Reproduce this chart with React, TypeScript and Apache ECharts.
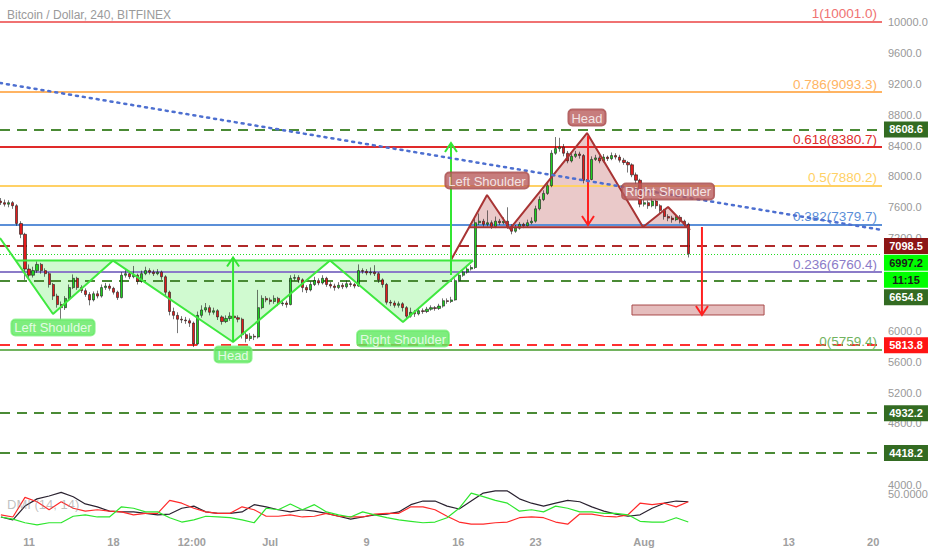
import React, { useEffect, useRef } from 'react';
import * as echarts from 'echarts';

// Time unit: days since 11 Jun 00:00. Candles resampled to 8h.
const FIRST_CANDLE_DAY = -7 / 3;
const CANDLE_DAYS = 1 / 3;
const FIRST_OPEN = 7680;

const closes = [
  7660, 7640, 7660, 7620, 7390, 7250, 6800, 6720, 6780, 6860,
  6780, 6740, 6600, 6450, 6340, 6300, 6420, 6560, 6680, 6560,
  6520, 6470, 6400, 6480, 6450, 6560, 6580, 6550, 6500, 6430,
  6720, 6740, 6700, 6720, 6640, 6740, 6780, 6760, 6740, 6760,
  6700, 6500, 6250, 6200, 6150, 6140, 6130, 6100, 5830, 6200,
  6270, 6300, 6240, 6260, 6180, 6120, 6160, 6190, 6170, 6150,
  5950, 5900, 5930, 5920, 6300, 6420, 6400, 6380, 6420, 6350,
  6360, 6340, 6680, 6690, 6660, 6560, 6530, 6600, 6650, 6620,
  6680, 6600, 6580, 6560, 6590, 6570, 6610, 6600, 6580, 6780,
  6770, 6750, 6760, 6740, 6660, 6600, 6370, 6360, 6330, 6350,
  6300, 6190, 6240, 6220, 6260, 6250, 6280, 6300, 6290, 6320,
  6390, 6380, 6400, 6650, 6720, 6760, 6800, 6820, 7400, 7420,
  7380, 7400, 7350, 7420, 7400, 7420, 7350, 7290, 7330, 7380,
  7360, 7400, 7420, 7580, 7700, 7780, 7880, 8300, 8360, 8380,
  8300, 8200, 8260, 8290, 8270, 7950, 7960, 8220, 8240, 8200,
  8250, 8230, 8270, 8250, 8210, 8180, 8150, 8020, 7950, 7640,
  7660, 7620, 7680, 7620, 7560, 7480, 7460, 7440, 7470, 7420,
  7380, 6997.2,
];
const highs = [
  7720, 7700, 7690, 7680, 7640, 7420, 7270, 6860, 6830, 6900,
  6880, 6810, 6760, 6620, 6480, 6380, 6450, 6600, 6730, 6700,
  6590, 6550, 6500, 6510, 6520, 6600, 6620, 6610, 6570, 6520,
  6760, 6790, 6770, 6840, 6740, 6780, 6830, 6810, 6790, 6800,
  6780, 6720, 6520, 6300, 6240, 6190, 6180, 6160, 6120, 6250,
  6330, 6360, 6330, 6300, 6280, 6200, 6200, 6240, 6220, 6200,
  6170, 5980, 5970, 5960, 6530, 6460, 6450, 6430, 6460, 6440,
  6400, 6390, 6720, 6730, 6720, 6680, 6590, 6640, 6700, 6680,
  6720, 6700, 6630, 6610, 6630, 6620, 6650, 6640, 6620, 6860,
  6810, 6800, 6820, 6850, 6760, 6680, 6620, 6400, 6390, 6380,
  6370, 6320, 6300, 6270, 6300, 6290, 6310, 6330, 6320, 6350,
  6420, 6420, 6440, 6680, 6760, 6790, 6830, 6850, 7460, 7520,
  7450, 7560, 7430, 7480, 7450, 7470, 7600, 7380, 7370, 7410,
  7400, 7440, 7470, 7620, 7740, 7820, 7920, 8340, 8510, 8500,
  8420, 8330, 8300, 8330, 8320, 8290, 8000, 8260, 8280, 8270,
  8290, 8270, 8310, 8300, 8280, 8240, 8200, 8170, 8050, 7970,
  7700, 7690, 7720, 7700, 7640, 7580, 7510, 7490, 7510, 7500,
  7440, 7400,
];
const lows = [
  7630, 7610, 7600, 7580, 7360, 7200, 6660, 6680, 6690, 6750,
  6740, 6700, 6560, 6400, 6300, 6140, 6270, 6400, 6540, 6530,
  6490, 6440, 6330, 6380, 6420, 6430, 6530, 6520, 6470, 6400,
  6420, 6690, 6670, 6680, 6600, 6620, 6720, 6730, 6710, 6720,
  6660, 6460, 6200, 6150, 5970, 6100, 6090, 6050, 5790, 5810,
  6170, 6240, 6200, 6210, 6140, 6080, 6100, 6130, 6140, 6110,
  5900, 5850, 5870, 5880, 5900, 6280, 6370, 6340, 6350, 6320,
  6320, 6300, 6330, 6650, 6620, 6500, 6490, 6510, 6580, 6590,
  6600, 6570, 6550, 6520, 6540, 6540, 6550, 6570, 6550, 6570,
  6740, 6720, 6720, 6710, 6620, 6560, 6340, 6320, 6300, 6300,
  6250, 6150, 6170, 6180, 6200, 6220, 6230, 6260, 6260, 6270,
  6300, 6350, 6360, 6390, 6630, 6700, 6740, 6780, 6800, 7370,
  7340, 7350, 7320, 7330, 7370, 7380, 7320, 7250, 7270, 7310,
  7330, 7340, 7380, 7400, 7560, 7680, 7760, 7860, 8280, 8320,
  8260, 8170, 8180, 8240, 8230, 7910, 7920, 7950, 8200, 8170,
  8180, 8200, 8210, 8220, 8180, 8150, 8050, 7990, 7900, 7600,
  7610, 7580, 7600, 7580, 7520, 7440, 7420, 7400, 7420, 7390,
  7350, 6950,
];

// DMI (14, 14), one reading per day, starting at the first candle
const adx = [
  18, 14, 33, 43, 47, 52, 46, 36, 32, 26, 25, 25, 23, 21, 22, 30, 33, 25, 23, 23,
  25, 35, 32, 28, 25, 28, 26, 23, 19, 15, 18, 21, 22, 25, 35, 40, 40, 33, 29, 40,
  51, 54, 54, 43, 37, 33, 37, 41, 39, 32, 26, 22, 19, 21, 30, 37, 40, 39,
];
const minusDI = [
  21, 18, 45, 39, 28, 39, 30, 26, 28, 26, 25, 21, 23, 23, 41, 37, 30, 25, 23, 23,
  32, 28, 19, 19, 21, 18, 19, 23, 19, 18, 18, 22, 23, 23, 32, 32, 28, 19, 11, 8,
  8, 10, 11, 17, 18, 17, 11, 8, 22, 22, 19, 18, 21, 37, 35, 37, 32, 39,
];
const plusDI = [
  18, 15, 10, 7, 10, 10, 19, 21, 18, 18, 32, 30, 25, 25, 17, 11, 14, 19, 18, 17,
  14, 10, 30, 28, 36, 28, 35, 25, 21, 18, 25, 21, 17, 14, 12, 10, 11, 17, 30, 51,
  46, 41, 37, 26, 28, 25, 33, 30, 25, 25, 23, 23, 21, 12, 11, 11, 17, 11,
];

const xTickDays = [0, 7, 13.5, 20, 28, 35.6, 42, 51, 63, 70];
const xTickLabels = ['11', '18', '12:00', 'Jul', '9', '16', '23', 'Aug', '13', '20'];
const yTicks = [4000, 4800, 5200, 5600, 6000, 7200, 7600, 8000, 8400, 8800, 9200, 9600, 10000];

const fibRatios = ['1', '0.786', '0.618', '0.5', '0.382', '0.236', '0'];
const fibPrices = [10001.0, 9093.3, 8380.7, 7880.2, 7379.7, 6760.4, 5759.4];
const levelPrices = [8608.6, 7098.5, 6654.8, 5813.8, 4932.2, 4418.2];
const lastPrice = 6997.2;
const countdown = '11:15';

const trendLine = [[-2.405, 9210], [70.73, 7306]];

const invPattern = [[-2.405, 7202], [1.99, 6218], [6.97, 6910], [16.92, 5855], [24.96, 6910], [31.01, 6114], [36.82, 6910]];
const invNeck = [[-1.08, 6910], [36.82, 6910]];
const invFill = [[-1.08, 6910], [1.99, 6218], [6.97, 6910], [16.92, 5855], [24.96, 6910], [31.01, 6114], [36.82, 6910]];

const topPattern = [[34.99, 6917], [37.98, 7759], [39.88, 7319], [46.27, 8562], [50.91, 7345], [52.99, 7604], [54.81, 7306]];
const topNeck = [[36.48, 7340], [54.61, 7340]];
const topFill = [[36.48, 7340], [37.98, 7759], [39.88, 7319], [46.27, 8562], [50.91, 7345], [52.99, 7604], [54.61, 7340]];

// [day, from price, to price]
const arrows = [[16.92, 5855, 6950], [34.99, 6723, 8433], [46.35, 8523, 7370], [55.8, 7345, 6205]];
const targetBox = [50.0, 6334, 60.95, 6205];
const patternNames = ['Left Shoulder', 'Head', 'Right Shoulder'];

// ---- styles ----
const X_MIN = -2.405;
const X_MAX = 70.73;
const Y_MIN = 3938;
const Y_MAX = 10285;
const FONT = "'Liberation Sans', Arial, sans-serif";
const fibColors = ['#f07272', '#ffb463', '#e02a2a', '#ffd165', '#5b8fd8', '#8b7bc8', '#72b35f'];
const levelColors = ['#4a8a35', '#b02a2a', '#4a8a35', '#ff3030', '#4a8a35', '#4a8a35'];
const levelBg = ['#336b22', '#8c1515', '#336b22', '#ff1414', '#336b22', '#336b22'];
const levelDy = [0, 0, 17, 0, 0, 0];
const arrowColors = ['#33e633', '#33e633', '#ff2020', '#ff2020'];
const GREEN_LINE = '#3fe83f';
const RED_LINE = '#a83434';

export default function App() {
  const ref = useRef<HTMLDivElement>(null);

  useEffect(() => {
    document.body.style.margin = '0';
    const chart = echarts.init(ref.current!, null, { renderer: 'svg' });

    const candleData = closes.map((c, i) => [
      FIRST_CANDLE_DAY + i * CANDLE_DAYS,
      i === 0 ? FIRST_OPEN : closes[i - 1],
      c,
      lows[i],
      highs[i],
    ]);
    const dmiSeries = (vals: number[]) => vals.map((v, k) => [FIRST_CANDLE_DAY + k, v]);

    const markLineData: any[] = [];
    fibPrices.forEach((p, i) => {
      markLineData.push({
        yAxis: p,
        lineStyle: { color: fibColors[i], width: 2, type: 'solid' },
        label: {
          show: true,
          position: 'insideEndTop',
          formatter: `${fibRatios[i]}(${p.toFixed(1)})`,
          color: fibColors[i],
          fontSize: 13.5,
          fontFamily: FONT,
          distance: [5, 1],
        },
      });
    });
    levelPrices.forEach((p, i) => {
      markLineData.push({
        yAxis: p,
        lineStyle: { color: levelColors[i], width: 2, type: [10, 7] },
        label: { show: false },
      });
    });
    markLineData.push({
      yAxis: lastPrice,
      lineStyle: { color: '#22dd22', width: 1, type: [1, 2] },
      label: { show: false },
    });

    const priceTag = (value: number, text: string, bg: string, fg: string, dy: number) => ({
      coord: [X_MAX - 0.001, value],
      symbol: 'rect',
      symbolSize: [44, 16],
      symbolOffset: [24, dy],
      itemStyle: { color: bg },
      label: {
        show: true,
        position: 'inside',
        formatter: text,
        color: fg,
        fontSize: 11,
        fontWeight: 'bold',
        fontFamily: FONT,
      },
    });
    const markPointData: any[] = levelPrices.map((p, i) => priceTag(p, p.toFixed(1), levelBg[i], '#ffffff', levelDy[i]));
    markPointData.push(priceTag(lastPrice, lastPrice.toFixed(1), '#00ff00', '#1a1a1a', 9));
    markPointData.push(priceTag(lastPrice, countdown, '#00ff00', '#1a1a1a', 26));

    const fills = [
      { pts: invFill, color: 'rgba(40,230,40,0.22)' },
      { pts: topFill, color: 'rgba(170,40,40,0.25)' },
    ];

    const patternLabel = (points: number[][], bg: string, border: string, pos: string, dist: number[]) =>
      [1, 3, 5].map((idx, k) => ({
        value: points[idx],
        name: patternNames[k],
        label: {
          show: true,
          position: pos,
          distance: dist[k],
          formatter: '{b}',
          color: '#ffffff',
          fontSize: 13,
          fontFamily: FONT,
          backgroundColor: bg,
          borderColor: border,
          borderWidth: 1,
          borderRadius: 4,
          padding: [1, 3, 0, 3],
          lineHeight: 15,
        },
      }));

    const option: any = {
      animation: false,
      textStyle: { fontFamily: FONT },
      title: [
        {
          text: 'Bitcoin / Dollar, 240, BITFINEX',
          left: 7,
          top: 9,
          padding: 0,
          textStyle: { fontSize: 12, color: '#9a9a9a', fontWeight: 'normal', fontFamily: FONT },
        },
        {
          text: 'DMI (14, 14)',
          left: 7,
          top: 498,
          padding: 0,
          textStyle: { fontSize: 13, color: 'rgba(140,140,140,0.55)', fontWeight: 'normal', fontFamily: FONT },
        },
      ],
      grid: [
        { left: 0, right: 50, top: 0, height: 490 },
        { left: 0, right: 50, top: 488, height: 42 },
      ],
      xAxis: [
        { type: 'value', gridIndex: 0, min: X_MIN, max: X_MAX, show: false },
        {
          type: 'value',
          gridIndex: 1,
          min: X_MIN,
          max: X_MAX,
          axisLine: { show: false },
          axisTick: { show: false },
          splitLine: { show: false },
          axisLabel: {
            customValues: xTickDays,
            formatter: (v: number) => {
              const i = xTickDays.indexOf(v);
              return i >= 0 ? xTickLabels[i] : '';
            },
            color: '#a0a0a0',
            fontSize: 11,
            fontWeight: 'bold',
            margin: 6,
            fontFamily: FONT,
          },
        },
      ],
      yAxis: [
        {
          type: 'value',
          gridIndex: 0,
          position: 'right',
          min: Y_MIN,
          max: Y_MAX,
          axisLine: { show: false },
          axisTick: { show: false },
          splitLine: { show: false },
          axisLabel: {
            customValues: yTicks,
            formatter: (v: number) => v.toFixed(1),
            color: '#999999',
            fontSize: 11,
            margin: 6,
            fontFamily: FONT,
          },
        },
        {
          type: 'value',
          gridIndex: 1,
          position: 'right',
          min: 0,
          max: 58,
          axisLine: { show: false },
          axisTick: { show: false },
          splitLine: { show: false },
          axisLabel: {
            customValues: [50],
            formatter: (v: number) => v.toFixed(4),
            color: '#999999',
            fontSize: 11,
            margin: 6,
            fontFamily: FONT,
          },
        },
      ],
      series: [
        {
          type: 'custom',
          name: 'fills',
          xAxisIndex: 0,
          yAxisIndex: 0,
          z: 1,
          silent: true,
          clip: true,
          data: fills.map((f) => f.pts[0]),
          renderItem: (params: any, api: any) => {
            const f = fills[params.dataIndex];
            return {
              type: 'polygon',
              shape: { points: f.pts.map((p) => api.coord(p)) },
              style: { fill: f.color },
            };
          },
        },
        {
          type: 'custom',
          name: 'target',
          xAxisIndex: 0,
          yAxisIndex: 0,
          z: 1,
          silent: true,
          data: [targetBox],
          encode: { x: [0, 2], y: [1, 3] },
          renderItem: (params: any, api: any) => {
            const a = api.coord([api.value(0), api.value(1)]);
            const b = api.coord([api.value(2), api.value(3)]);
            return {
              type: 'rect',
              shape: { x: a[0], y: a[1], width: b[0] - a[0], height: b[1] - a[1] },
              style: { fill: 'rgba(190,90,90,0.4)', stroke: '#a84a4a', lineWidth: 1 },
            };
          },
        },
        {
          type: 'candlestick',
          name: 'BTCUSD',
          xAxisIndex: 0,
          yAxisIndex: 0,
          z: 3,
          barWidth: 2.6,
          data: candleData,
          itemStyle: {
            color: '#1fd11f',
            color0: '#e31b1b',
            borderColor: '#1a1a1a',
            borderColor0: '#1a1a1a',
            borderWidth: 0.6,
          },
          markLine: {
            silent: true,
            symbol: ['none', 'none'],
            z: 2,
            data: markLineData,
          },
          markPoint: {
            silent: true,
            z: 10,
            data: markPointData,
          },
        },
        {
          type: 'line',
          name: 'trend',
          xAxisIndex: 0,
          yAxisIndex: 0,
          z: 6,
          silent: true,
          showSymbol: false,
          symbol: 'none',
          data: trendLine,
          lineStyle: { color: '#4d6fd0', width: 2.5, type: [2, 5], cap: 'round' },
        },
        {
          type: 'line',
          name: 'inverse H&S',
          xAxisIndex: 0,
          yAxisIndex: 0,
          z: 5,
          silent: true,
          symbol: 'none',
          data: invPattern,
          lineStyle: { color: GREEN_LINE, width: 2 },
        },
        {
          type: 'line',
          name: 'inverse neck',
          xAxisIndex: 0,
          yAxisIndex: 0,
          z: 5,
          silent: true,
          symbol: 'none',
          data: invNeck,
          lineStyle: { color: GREEN_LINE, width: 2 },
        },
        {
          type: 'line',
          name: 'H&S',
          xAxisIndex: 0,
          yAxisIndex: 0,
          z: 5,
          silent: true,
          symbol: 'none',
          data: topPattern,
          lineStyle: { color: RED_LINE, width: 2 },
        },
        {
          type: 'line',
          name: 'neck',
          xAxisIndex: 0,
          yAxisIndex: 0,
          z: 5,
          silent: true,
          symbol: 'none',
          data: topNeck,
          lineStyle: { color: RED_LINE, width: 2 },
        },
        {
          type: 'custom',
          name: 'arrows',
          xAxisIndex: 0,
          yAxisIndex: 0,
          z: 6,
          silent: true,
          data: arrows,
          encode: { x: 0, y: [1, 2] },
          renderItem: (params: any, api: any) => {
            const a = api.coord([api.value(0), api.value(1)]);
            const b = api.coord([api.value(0), api.value(2)]);
            const dir = b[1] > a[1] ? 1 : -1;
            const color = arrowColors[params.dataIndex];
            return {
              type: 'group',
              children: [
                { type: 'line', shape: { x1: a[0], y1: a[1], x2: b[0], y2: b[1] }, style: { stroke: color, lineWidth: 2 } },
                {
                  type: 'polyline',
                  shape: { points: [[b[0] - 6, b[1] - dir * 9], [b[0], b[1]], [b[0] + 6, b[1] - dir * 9]] },
                  style: { stroke: color, lineWidth: 2, fill: 'none' },
                },
              ],
            };
          },
        },
        {
          type: 'scatter',
          name: 'inverse labels',
          xAxisIndex: 0,
          yAxisIndex: 0,
          z: 8,
          silent: true,
          symbolSize: 1,
          itemStyle: { color: 'rgba(0,0,0,0)' },
          data: patternLabel(invPattern, '#5ee85e', '#84f084', 'bottom', [5, 4, 8]),
        },
        {
          type: 'scatter',
          name: 'top labels',
          xAxisIndex: 0,
          yAxisIndex: 0,
          z: 8,
          silent: true,
          symbolSize: 1,
          itemStyle: { color: 'rgba(0,0,0,0)' },
          data: patternLabel(topPattern, '#b95c5c', '#a04646', 'top', [6, 7, 7]),
        },
        {
          type: 'line',
          name: 'ADX',
          xAxisIndex: 1,
          yAxisIndex: 1,
          symbol: 'none',
          data: dmiSeries(adx),
          lineStyle: { color: '#2a2230', width: 1.2 },
        },
        {
          type: 'line',
          name: '-DI',
          xAxisIndex: 1,
          yAxisIndex: 1,
          symbol: 'none',
          data: dmiSeries(minusDI),
          lineStyle: { color: '#ff2a2a', width: 1.2 },
        },
        {
          type: 'line',
          name: '+DI',
          xAxisIndex: 1,
          yAxisIndex: 1,
          symbol: 'none',
          data: dmiSeries(plusDI),
          lineStyle: { color: '#2ee62e', width: 1.2 },
        },
      ],
    };

    chart.setOption(option);
    return () => chart.dispose();
  }, []);

  return (
    <div
      ref={ref}
      style={{ position: 'absolute', left: 0, top: 0, width: 932, height: 550, background: '#ffffff' }}
    />
  );
}
